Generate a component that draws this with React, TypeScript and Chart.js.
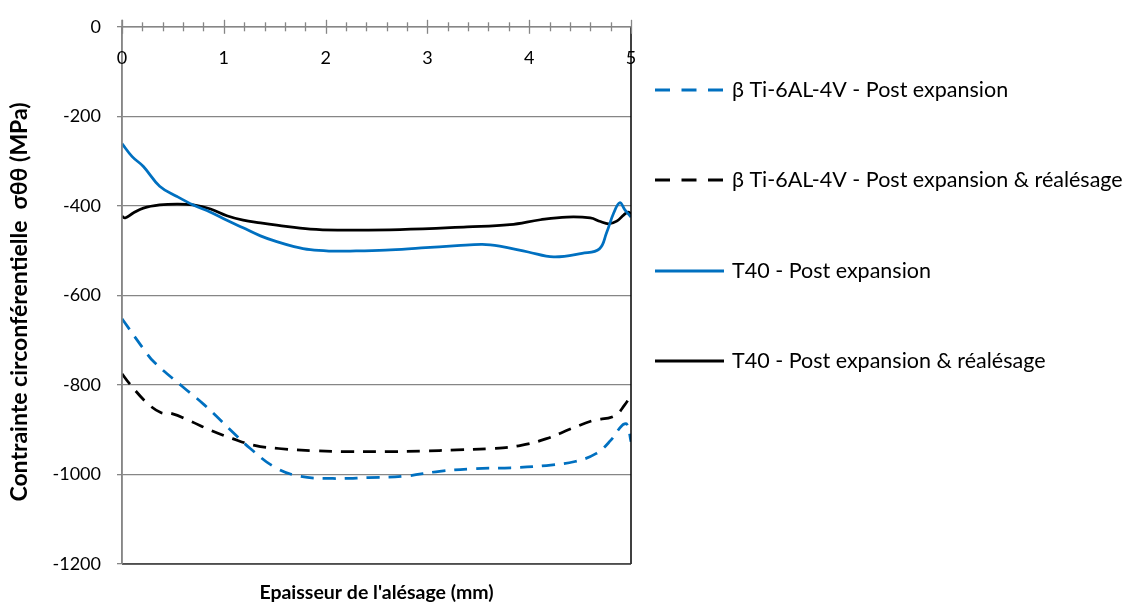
import React, { useEffect, useRef } from "react";
import { Chart, registerables } from "chart.js";

Chart.register(...registerables);

// ---- Data ----
const xBetaPost = [0, 0.21, 0.315, 0.596, 0.806, 1.086, 1.26, 1.51, 1.75, 2.07, 2.42, 2.77, 3.12, 3.47, 3.82, 4.17, 4.45, 4.66, 4.8, 4.91, 4.96, 5.0];
const yBetaPost = [-652, -719, -749, -804, -844, -905, -942, -985, -1004, -1009, -1007, -1004, -993, -987, -985, -980, -971, -953, -924, -891, -888, -927];

const xBetaReal = [0, 0.07, 0.245, 0.385, 0.49, 0.666, 0.876, 1.086, 1.3, 1.54, 1.89, 2.24, 2.59, 2.94, 3.29, 3.64, 3.92, 4.17, 4.41, 4.62, 4.84, 4.94, 5.0];
const yBetaReal = [-775, -796, -840, -862, -864, -880, -902, -920, -935, -942, -947, -949, -949, -948, -945, -942, -935, -920, -898, -880, -869, -844, -822];

const xT40Post = [0, 0.1, 0.21, 0.37, 0.54, 0.7, 0.87, 1.03, 1.19, 1.36, 1.52, 1.69, 1.85, 2.05, 2.24, 2.59, 2.94, 3.29, 3.54, 3.71, 3.99, 4.24, 4.52, 4.69, 4.76, 4.83, 4.89, 4.94, 5.0];
const yT40Post = [-261, -290, -312, -356, -379, -398, -414, -432, -449, -467, -480, -491, -498, -501, -501, -499, -494, -489, -486, -490, -503, -514, -506, -496, -460, -416, -393, -409, -425];

const xT40Real = [0, 0.03, 0.11, 0.21, 0.37, 0.54, 0.7, 0.87, 1.03, 1.19, 1.36, 1.52, 1.85, 2.17, 2.73, 3.39, 3.81, 4.11, 4.37, 4.6, 4.7, 4.78, 4.86, 4.93, 4.97, 5.0];
const yT40Real = [-423, -427, -416, -405, -398, -396, -398, -407, -422, -432, -438, -443, -452, -454, -453, -447, -442, -431, -425, -427, -435, -440, -434, -420, -414, -418];

const seriesLabels = [
  "\u03B2 Ti-6AL-4V - Post expansion",
  "\u03B2 Ti-6AL-4V - Post expansion & r\u00E9al\u00E9sage",
  "T40 - Post expansion",
  "T40 - Post expansion & r\u00E9al\u00E9sage",
];
const xTickLabels = ["0", "1", "2", "3", "4", "5"];
const xTitle = "Epaisseur de l'al\u00E9sage (mm)";
const yTitle = "Contrainte circonf\u00E9rentielle  \u03C3\u03B8\u03B8 (MPa)";

const BLUE = "#0070C0";
const BLACK = "#000000";
const GRAY = "#868686";
const FONT = "Lato";

const seriesColors = [BLUE, BLACK, BLUE, BLACK];
const seriesDashed = [true, true, false, false];

const toPts = (xs: number[], ys: number[]) => xs.map((x, i) => ({ x, y: ys[i] }));

const framePlugin = {
  id: "frame",
  afterDraw(chart: any) {
    const ctx = chart.ctx;
    const xs = chart.scales.x;
    const ys = chart.scales.y;
    const ca = chart.chartArea;
    const y0 = ys.getPixelForValue(0);
    const yb = ys.getPixelForValue(-1200);
    ctx.save();
    // right border (black) and bottom border
    ctx.strokeStyle = "#000";
    ctx.lineWidth = 1.5;
    ctx.beginPath();
    ctx.moveTo(ca.right, y0);
    ctx.lineTo(ca.right, yb);
    ctx.stroke();
    ctx.strokeStyle = "#3a3a3a";
    ctx.beginPath();
    ctx.moveTo(ca.left, yb);
    ctx.lineTo(ca.right, yb);
    ctx.stroke();
    // left axis extension upward
    ctx.strokeStyle = GRAY;
    ctx.lineWidth = 1.5;
    ctx.beginPath();
    ctx.moveTo(ca.left, y0 - 7);
    ctx.lineTo(ca.left, yb);
    ctx.stroke();
    // top x axis line
    ctx.beginPath();
    ctx.moveTo(ca.left, y0);
    ctx.lineTo(ca.right, y0);
    ctx.stroke();
    // ticks
    ctx.lineWidth = 1.3;
    for (let i = 0; i <= 25; i++) {
      const v = i * 0.2;
      const px = Math.round(xs.getPixelForValue(v)) + 0.5;
      const major = i % 5 === 0;
      const h = major ? 7 : 4.5;
      ctx.beginPath();
      ctx.moveTo(px, y0 - h);
      ctx.lineTo(px, y0 + h);
      ctx.stroke();
    }
    // x tick labels
    ctx.fillStyle = "#000";
    ctx.font = `18px ${FONT}`;
    ctx.textAlign = "center";
    ctx.textBaseline = "middle";
    xTickLabels.forEach((t, i) => {
      ctx.fillText(t, xs.getPixelForValue(i), y0 + 31);
    });
    // y axis title
    ctx.save();
    ctx.translate(20, 302);
    ctx.rotate(-Math.PI / 2);
    ctx.font = `bold 23px ${FONT}`;
    ctx.textAlign = "center";
    ctx.textBaseline = "middle";
    ctx.fillText(yTitle, 0, 0);
    ctx.restore();
    // legend
    const rows = [90, 180, 271, 361];
    const lx0 = 655;
    const lx1 = 724;
    seriesLabels.forEach((lab, i) => {
      const y = rows[i];
      ctx.strokeStyle = seriesColors[i];
      ctx.lineWidth = 3;
      ctx.setLineDash(seriesDashed[i] ? [15, 11.5] : []);
      ctx.beginPath();
      ctx.moveTo(lx0, y);
      ctx.lineTo(lx1, y);
      ctx.stroke();
      ctx.setLineDash([]);
      ctx.fillStyle = "#000";
      ctx.font = `21.5px ${FONT}`;
      ctx.textAlign = "left";
      ctx.textBaseline = "middle";
      ctx.fillText(lab, 732, y);
    });
    ctx.restore();
  },
};

export default function App() {
  const ref = useRef<HTMLCanvasElement>(null);
  useEffect(() => {
    if (!ref.current) return;
    const allPts = [
      toPts(xBetaPost, yBetaPost),
      toPts(xBetaReal, yBetaReal),
      toPts(xT40Post, yT40Post),
      toPts(xT40Real, yT40Real),
    ];
    const chart = new Chart(ref.current, {
      type: "scatter",
      data: {
        datasets: allPts.map((pts, i) => ({
          label: seriesLabels[i],
          data: pts,
          showLine: true,
          borderColor: seriesColors[i],
          backgroundColor: seriesColors[i],
          borderWidth: 2.75,
          borderDash: seriesDashed[i] ? [13, 9] : [],
          pointRadius: 0,
          tension: 0.4,
          fill: false,
        })),
      },
      options: {
        responsive: false,
        animation: false,
        devicePixelRatio: 1,
        layout: { padding: { top: 22, right: 502, left: 0, bottom: 0 } },
        plugins: {
          legend: { display: false },
          tooltip: { enabled: false },
        },
        scales: {
          x: {
            type: "linear",
            min: 0,
            max: 5,
            position: "bottom",
            grid: { display: false },
            border: { display: false },
            ticks: { display: false },
            title: {
              display: true,
              text: xTitle,
              color: "#000",
              font: { family: FONT, size: 19.5, weight: "bold" },
              padding: { top: 0, bottom: 2 },
            },
            afterFit: (s: any) => {
              s.height = 42;
            },
          },
          y: {
            type: "linear",
            min: -1200,
            max: 0,
            ticks: {
              stepSize: 200,
              color: "#000",
              font: { family: FONT, size: 18 },
              padding: 16,
              callback: (v: any) => String(v),
            },
            grid: { color: GRAY, lineWidth: 1.3, tickLength: 5 },
            border: { color: GRAY, width: 1.5 },
            title: { display: false },
            afterFit: (s: any) => {
              s.width = 122;
            },
          },
        },
      },
      plugins: [framePlugin],
    });
    return () => chart.destroy();
  }, []);
  return (
    <div style={{ position: "absolute", left: 0, top: 0, width: 1133, height: 606, background: "#fff" }}>
      <canvas ref={ref} width={1133} height={606} style={{ display: "block" }} />
    </div>
  );
}
